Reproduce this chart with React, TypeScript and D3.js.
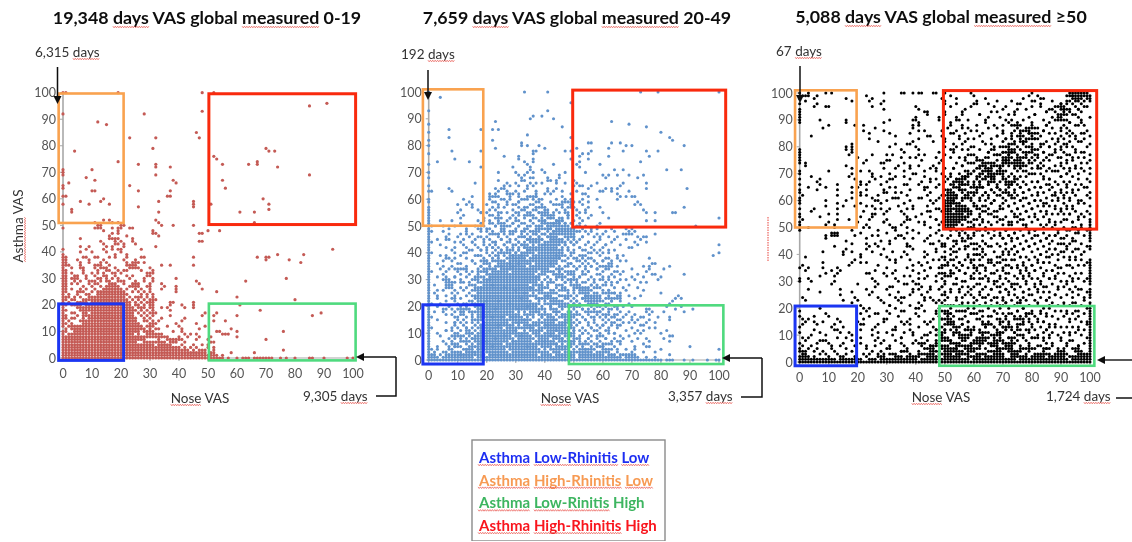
import React from "react";
import * as d3 from "d3";

// Each row is "asthmaVAS:noseVAS values" with a-b for a run of neighbouring dots.
const rowsA = [
"100:0 1 19 48 52","96:91","95:85","93:48","92:0 28","89:12","88:15","85:46","83:23 32 47","79:31 70","78:4 71 73","76:52","75:53","74:19 67",
"73:26 32 55 64 67","72:32 37 74","71:0 10","70:0","69:0 32 85","68:8","67:11 38 55","66:2 39","65:0 23","64:0 56","63:10 11 26 37","61:0 1 36 37",
"60:14 69","59:6 13 33 45","58:0 9 16 45 51 71","57:26 45","56:3 71","55:3 33 61 66","52:14 16 32","51:11 17 19 33 66","50:12 13 20 21 34 38 45",
"49:0 11-13 17 19 20 23 24","48:14 19 31 50 54","47:17 19 31 32 47 48","46:16 22 33","45:6 16-19 24","44:13 18 20 24 47 48","43:14 18 19 21 25",
"42:6 9 15 17 21 32","41:0 8 14 17 19 20 27 93","40:6 10 15 20","39:0 18 22 74 83","38:0 1 7 8 11 12 16 18 22 27 28 45 67 70 71","37:0 1 5 9 14 21 25 70 78",
"36:0 1 6 9 13 15 22 24-26 28 82","35:0 1 2 6 11-13 16 22-25 34 37 45","34:0 3 6 7 11 13-15 18 23-26 30","33:0 1 7 12 15 16 19 21 22 27 31",
"32:0 1 3 7 10 12 14 17 18 20 29-31","31:0 1 4 5 8 11 14 15 18 22 24 29 30","30:0 1 3-5 8 12 13 15 17 19 23 28 31 39 77","29:0 1 4 6 9-11 13 15 16 19-21 25 28 31 46 63",
"28:0 1 3 5 9 11 12 16-18 21 24-26 30 34 47","27:0 1 7 10 13 15-19 23-26 29 30 35 39","26:0 1 3 6 8 11 14-20 22 25 27 30 34 39 48","25:0 1 5-7 10 12-21 24 26 28 30 39 53",
"24:0 2 5 8 9 12-22 27 29 31","23:0-2 4 6 9-21 23 25-27 29 31 60","22:0 1 3 4 7-22 24 26 28 30-32 80","21:0 2 5-8 10-23 25 27 29-31 38 37 45",
"20:0 1 3-6 8-23 25 26 28 30 31 37 41 45 61","19:0 5-24 26-28 30 31 34 36 42 45","18:0 1 6-25 27 29 31 37 68","17:0 3-4 7-8 10-24 26 28 30-32 49 53 89","16:0 1 5 7-24 27 29 31 37 48 52 60 86",
"15:0 1 3 4 7 9-25 28 30 34 42","14:0 2 6-25 28 29 31 33 41 52 56","13:0 1 3 7-26 30-32 39 46","12:0 2-27 29-31 36 40 49","11:1 3-28 30 32 33 41 47 58","10:0-1 4-26 28-31 38 41 53 54 60 76",
"9:0 2-24 26 29-34 42 44 46 55-57","8:0-36 40 43 47 51 60","7:0-28 33 36-41 46 50 70","6:0-25 28-35 37-39 42 51 52","5:0-31 33-37 41 45 48 50","4:0-40 42 44 46 50 52","3:0-43 45 47-49 52 76",
"2:0-49 51 52 58 66","1:0-53 55","0:0-55 57 60 62-64 66-72 75 77 80 85 86 90 98 100",
];

const rowsB = [
"100:0 33 41 73 79 100","98:4","96:49","93:0 41","91:36 39","90:35 43","89:23 63","88:0 69","87:46 75","86:7 18 22 24","85:0 80","84:34","83:7 49 83","82:22 84 0",
"81:32 55 56 63 66","80:0 32 34 38 68 70 88","79:23 40 51 62","78:8 18 36 37 47 49 56 67 75 79","77:0 36 53 55","76:26 31 52 62 76","75:9 31 36 49 55","74:3 14 33 36 52 73","73:0 34 43 51 59",
"72:18 29 35 52","71:35 39 64 67 82 87","70:0 24 30 34 36 40 47 54","69:31 33 45 60 62 65 69 74","68:0 32 35 36 41 45 61 72","67:24 32 33 41 42 44 50","66:16 27 30 35 37 39 44 47 51 58 67 75",
"65:0 26 28 31 34 36 50 52 53 56 66","64:7 23 25 26 34 41 44 55 61 63 65 75 89","63:0 1 8 24 27 30 33 37 41 43 46 51 59 60 63 69","62:21 23 27-29 31 37 40 42 49 53 54 65",
"61:15 21-24 31 34-37 46 55 66 68 70 71","60:0 12 26 28 33 36 38 39 44 47 49 53 58 65","59:0 14 22 27 31 37 42 46-50 52 55 72","58:10 13 15 27 30 36 39 43-46 49 53 71 73",
"57:0 15 24 31 34 37-39 46 48 50 55 59 88","56:0 11 17 29 33 36 40 44 47 51 54 74","55:0 10 18 24 27 31 35 38-41 45 48 52 54 60 75 78 84 85","54:0 12 21 24 29 33-36 40-43 48 51 56",
"53:0 11 19 23 25 28 30 36 39 41-43 46 48 52 55 62 100","52:0 4 8 19 21 24 27 31 35 38-40 44-46 50 53 75 78","51:0 11 18 22 24-26 29 33 36 40-45 47 49 52 59",
"50:0 1 5 9 16 19 23 25 27 31 35 37-39 41-48 51 54 58 92","49:0 7 13 17 20 21 25 26 30 33 34 38 39 41 42 44-50 53 58 63 68 70","48:0 1 5 13 18 20 26 28 29 32 36-38 41 43-50 52 56 61 64 69 71",
"47:0 7 11 15 21-24 28 34 36 37 40 42 43 45-50 55 60 67-70 78","46:0 6 10 14 18 24 27 31-33 38 41-44 47-50 53 57 62 65 72 74 75","45:0 3 7 12 16 19 21 25 28 34-39 42-46 48 50 52 59 64 68 73",
"44:0 1 9 11 15 22 23 27 31 33 35-38 40-47 49 51 55 58 63 71 75","43:0 4 12 16 19 23 26 29 32-34 36 38-45 47 50 54 61 66 72 100","42:0 6 13 17 20 22 27 31 33-37 39-44 46 48 52 56 60 69 70",
"41:0 8 14 15 18 25 27-29 31 34-45 48 50 53 57 62 64","40:0 1 9 12 20 22 24-27 30 32-36 38-46 50 55 58 60 100","39:0 4 6 11 16-18 23 26 28-34 36-46 49 52 54 59 65 67 98",
"38:0 7 9 13 19 22 24 27-33 35-45 48 53 56 61 62 76","37:0 5 8 15 18 20 22-25 28-31 33-44 47 51 54 57 60 63 66 68","36:0 3 10 16 19-21 24-35 37-44 49 53 55 58 62 77 78",
"35:0 5 8 13 18 21 23-33 35-43 45 48 50 52 56 59-63 65 74 76 83","34:0 4 7 9-13 17 20-23 25-41 44-46 51 54 58 62 70 76 81","33:0 1 6 10 15 18-20 22-27 29-37 39-42 45 47 49 53 55 60 65 67 75",
"32:0 5 11 14 17 20-36 38-40 43-45 48-50 54 58 63 66 72 77 78 88","31:0 3 6 9 13 16-19 21-38 41 44-47 50 52 56 60 64 70 74 80","30:0 5-7 11 15-17 19-38 40 42 46 48-51 55 59 62 68 71 79",
"29:0 6-9 12 14 18-37 39 41 43 47 49 53 57 61 65 73 75","28:0 2 6-8 14 16 19-34 36-39 41 44-46 49-52 56 58 60 63 69","27:0 7 8 11 13 16-36 38-41 44 47 51-54 57 59 64 67 72","26:0 3 5 9 12 15-39 42 45-47 50 53-56 60 62 68 74",
"25:0 2 8 10 14 17-34 36 38-44 48 50 52-55 58 61-64 66 80","24:0 3 6 9 13 15-37 40-42 45-48 51 54-58 62 65 69 73 86","23:0 3 8 11 16-34 37-44 48 50 53-59 61-66 71 85 87","22:0 6 9 14 17-35 38 40 42-46 49 51 54-60 63 66 84",
"21:0 1 4 10 12 15-38 41-48 50 52 55-58 62 69 83","20:0 3 7 11 13 16-37 39 42 45-47 49-52 56 59 61 64 67 70 82 87","19:0 5 8 10-14 17-40 42-44 46 50 53 55 57 60 63 65 75 76 85 91","18:0 2 5 9 12 14 16-29 31 33 35-38 40 43-45 48 51 54 56-59 62 66 69 75 77 81 88",
"17:0 6 8 12 15 17-31 33-36 38-42 44 46-50 52 55 58 60-62 65 68 71 76","16:0 1 9 10 13 15 17-26 28-32 34 36 39 41-43 45-50 53 56 59 63 64 67 70 73 74 79 83","15:0 3 10 12 15-18 20-35 38 40-44 47-49 51 54 57 60 62 65 70 72 76 83",
"14:0 6 9 11 13 15 17 19-27 29-34 36-43 45-50 52 55 57 61 64 67 69 71 75 78","13:0 9 12 16 18-29 31 33-38 40-47 49 51 55 58 60 63 66 73 74","12:0 1 8 10 13 15 17-25 27-36 38-44 46-50 53 56 59 62 65 70 76 78",
"11:0 6 8 11 14 16 18-30 33 35-39 41-48 50 52 54 57 61 68 72 74 82","10:0 3 9 10 13-15 17-34 36-38 40-43 45-50 53 55 59 62 64 71 73 80","9:0 4 8-10 12 14 16-28 30-35 37-45 47-50 52 56 58 60 66 69 83 84",
"8:0 7 9 11 13 15-29 31-36 38-41 43-46 48 50-52 55 58 61 64 67 72 75 81","7:0 5 8 11-14 16-27 29-35 37-43 45-50 52 54 56 59 63 65 70 76 83","6:0 6 8 10 13 15 17-25 27-44 46 48-50 53-55 58 60-62 66 74",
"5:0 3 7 9-11 14-16 18-37 39-42 44-49 51 53 56 58-60 64 71 75 76 90","4:0 1 3 7 8 12-15 17-26 28-38 40 42-48 50 52-57 60-63 68 71 80 100","3:0 2 5 8-11 13-18 20-27 29-41 43-45 47-50 52-56 59-61 65 70 74 78",
"2:0-2 4 6-19 21-37 39-42 44-50 52-60 62-64 66-71 83","1:0-3 5-15 17-50 52-66 68-72 75 78","0:0-80 82-84 88 91 96 99 100",
];

// Second reading of panel B, by column: "noseVAS:asthmaVAS values"
const colsB = [
"6:3 11 19 27 38 45","9:5 6 14 23 31 42","11:2 9 17 18 29 36","13:4 11 12 21 33 40 47","15:3 8 10 18 22 28 37 44","17:4 5 19 25 29 33 39 46 52","18:6 7 13 27 35 41 49 55",
"19:9 12 16 21 34 37 44 53","20:7 22 33 37 41 46 55 58","21:11 18 30 39 43 51 56 60","22:5 16 28 42 48 54 57","23:8 19 41 44 50 56 59","24:13 22 39 42 47 53 58","25:16 35 41 45 48 55 60",
"26:9 27 37 43 47 50 57","28:21 34 36 40 44 50 53 61","29:7 16 35 39 42 47 51 58","30:11 26 40 43 45 48 52 55","31:14 19 36 41 44 50 54 59","32:9 23 37 39 43 47 51 56 60","33:15 25 42 46 48 53 57",
"34:5 20 41 45 50 55 60","35:12 27 46 48 52 58","37:18 31 47 49 53 56 61","38:11 23 42 46 50 55 59","39:16 28 45 47 51 54","40:7 21 43 47 49 52 57","41:13 24 31 46 50 56","42:9 20 29 36 47 49 53","43:15 26 33 48 51 55","44:6 11 18 30 39 47 52",
"45:12 24 33 38 51 53","46:8 17 27 32 37 41 52","47:14 23 29 35 39 43 51 55","48:5 10 20 26 33 36 41 54","49:13 18 24 30 36 40 44 57","50:7 11 21 27 33 38 43 46","51:3 17 22 29 34 38 44 48","52:6 14 26 31 37 42 50","53:10 19 23 32 39 46","54:4 15 24 29 35 41 48","55:8 18 27 33 38 44",
"56:12 21 28 35 40 49","57:6 16 25 30 37 43","58:3 11 20 27 34 47","59:9 18 24 32 41 46","60:5 13 25 30 37","61:8 16 21 28 34 43","62:3 11 19 26 31 40","63:6 14 22 29 36","64:10 17 25 33","65:4 13 20 29 38","66:7 15 24 30",
];

const rowsC = [
"100:0 3 9 11 29 35 36 39 41 42 46 47 50 59 80 93-99","99:1-3 6 23 52 60 79 82 92-100","98:0 5 16 25 49 54 64 77 83 94-97 99 100","97:2 18 24 29 50 68 73 81 93 95 96 98 100",
"96:0 6 28 50 60 61 75 83 90 92 94 97","95:5 9 10 25 40 52 67 80 89-91 95 98","94:0 29 41 57 70 75 87 90-93 96","93:0 43 44 50 66 74 85 88 91 93 97","92:0 44 56 62 72 81 89-92 94",
"91:0 40 48 54 65 79 87 90 96 100","90:0 7 16 31 39 40 55 71 73 84 88-92","89:0 16 29 41 52 64 75 80 86 93 97","88:10 19 22 39 41 56 70 73-76 85 91 95","87:8 26 39 51 58 68 78-81 87 90",
"86:22 29 41 43 54 61 74 76-79 84 93","85:24 31 38 52 57 70 73 79-82 86 92 98","84:4 33 44 49 62 68 75-77 80 83 90 100","83:24 41 55 58 71 73 76 79-82 89 95","82:39 46 50 63 70 76-78 85 93 97",
"81:18 33 38 53 56 66 73 74 77 80 84 88 91 100","80:16 18 31 40 50 60 67 70-72 78-80 83 86 92","79:0 16 18 35 41 52 58 66 72-74 76 80-82 90 95","78:0 18 36 48 53 65 70-74 77-80 84 88 98",
"77:0 17 30 32 41 50 59 67-69 72 75 78 81 86 92 100","76:0 20 38 40 47 57 61 65 70-73 75-78 82 90 94","75:0 23 30 31 42 49 62 63 68 70-72 74-76 79 84 100","74:0 2 22 28 36 48 58 60 64-66 70-75 77 80 92 97",
"73:2 16 34 38 46 56 62-64 67-70 72 75-77 82 90","72:18 29 38 45 50 53 61 64-66 69 74 76 83 86 95 100","71:0 10 24 36 43 47 57 60 63-66 68-71 78 88 93","70:0 18 25 31 40 49 58 59 62 65-67 69 70 73 80 92 100",
"69:4 17 28 33 36 43 52 56-58 62 64-67 70 74 84 90","68:0 7 19 26 32 38 47 51 54-57 61 63 66 71 75 86 96","67:6 21 24 30 42 45 50 53-56 60 62 65-67 72-74 82 100","66:0 7 13 21 28 36 41 52 55-58 62 65 68 71-73 86 92",
"65:3 9 18 20 31 33 44 47 53-55 60-63 68 72 76 83 99","64:0 6 13 23 29 38 43 50 51 55-57 61 66 69 74 79 90 94","63:0 18 21 30 33 45 51-53 56 59 60 64 70-72 77 88 92 100","62:1 13 23 27 37 44 50-54 58 60 63 69 73 82 87 91",
"61:0 18 25 32 34 42 48 51-54 57-59 65 74 77 89 100","60:0 9 16 26 30 38 45 50-53 56 62 67 76 81 93 96","59:0 13 21 28 36 46 50-55 60 66 70 79 85 91","58:9 15 19 25 34 39 44 50-52 54-57 61 64 72 84 88 94 100",
"57:0 5 13 26 28 37 47 50-58 62 69 75 80 92","56:4 22 30 35 44 49 50-52 54-59 63 67 78 90","55:0 10 13 26 29 36 42 50-56 58 59 65 74 85 93 100","54:0 7 21 25 37 40 45 50-58 62 68 75 81 96","53:1 13 17 24 30 38 47 50-57 61 70 76 91 100",
"52:0 10 20 29 36 41 49-55 59 63 73 86 94 100","51:0 9 12 23 31 35 43 48 50-54 60 72 77 88 97 100","50:0 3 12 22 24 32 37 45 50-53 58-60 64 78 84 94 100",
"49:0 18 27 33 39 48 52 56 62 71 81 92 96 100","48:11-13 21 30 37 47 55 60 69 74 79 89 95 100","47:9 11-13 19 25 34 45 49 58 67 72 81 88 100","46:9 23 33 36 44 51 56 59 70 75 85 91 100",
"45:16 28 31 43 54 57 63 73 78 83 94 100","44:18 26 37 46 49 60 64 71 81 86 90","43:12 24 27 38 50 53 58 66 74 79 92 100","42:16 23 29 39 47 57 61 71 77 88 95 100",
"41:8 15 18 32 36 50 54 63 70 75 85 91","40:15 21 28 37 44 52 60-62 72 74 83 89 97","39:2 21 30 35 43 49 58 63 69 76 86 93","38:19 31 38 46 50 53 60 65 70 73 82 95 100",
"37:8 18 23 33 44 51 55 59 66 68 77 84 100","36:1 17 27 39 42 49-51 56 62 71 75 80 93 100","35:0 3 8 13 30 37 45 48 54 60 64 73 78 89 100","34:2 11 14 26 33 43 52 55 61 70 76 81 87 100",
"33:9 13 24 32 41 48-50 53 57 67 72 79 84 100","32:7 12 30 36 38 44 50-52 59 64 69 77 88 100","31:0 3 25 33 41 49 54 60 62 71 75 86 94 100","30:0 4 12 26 34 39 47 50 57 65 68 78 83 100",
"29:11 20 27 36 40 50 54 62 67 74 81 92 100","28:26 32 42 45 49 56 60 69 73 84 89","27:3 14 23 30 39 41 48 52 63 66 71 82 96 100","26:7 18 25 34 44 50 55 58 69 72 77 94 100",
"25:14 24 31 38 42 49 59 62 74 79 88 100","24:1 19 27 33 36 45 51 56 64 68 77 86 100","23:2 15 20 28 34 43 46 50 54 66 70 76 85 98","22:18 29 35 41 47 49 56 60 71 75 82 94 100",
"21:21 31 38 42 50-52 55 62 70 79 91 100","20:7 22 24 33 40 48 52 58 65 69 77 86 100","19:0 23 30 36 43 49-51 55-57 62 67 75 83 95 100","18:9 21 26 31 40 47 50-52 59-61 68 72 78-80 92 100",
"17:0 5 10 24 34 41 48 51 53 57 63 66 71 74 78 85 96 100","16:1 3 13 22 30 38 46 49-52 56 62 69 75-77 82 93 100","15:2 5 8 14 20 29 35 43 51-53 58 65 70 72 79 84 99 100","14:1 6 12 22 27 36 38 44 50-52 56 63-65 69 75-77 88 100",
"13:0 11 15 26 33 41 46 49 53-55 58 64 67 70-73 80 86 100","12:5 12 13 21 32 38 47 50 54 57-60 68 71 75 79 85 96 100","11:0 7 14 17 27 30 36 45 48-50 53-55 62-64 68-70 74 84 93 100","10:4 9 18 25 32 39 44 47-49 53 56-59 63 66-69 75-77 86 100",
"9:1 3 13 16 27 35 42 49-51 55-58 62-65 69 72-74 80-82 90 100","8:2 7-9 18 26 33 40 44 47-52 56 60-63 67-70 73 78 84 93 100","7:0 6 10 15 21 28 35 41-43 47 48 52-55 59-63 65-68 71-74 79 85 92 100","6:1 4 11 14 19 26 31 36 42 45-51 54-59 62 66-68 71-73 76 82 87 96 100",
"5:0 3 6 11 16 23 30 37 43-46 49-54 57-61 64 68-73 77-80 84-86 91 94-96 100","4:0-2 5 8 12 18 25 28 35-37 41 45-48 50-55 58-60 65-69 72-76 79 84 89-91 95-97 100","3:1 2 7 9 13 16 22 24 29 31-33 38 42-46 48-52 54-58 61-64 67-70 73-75 78 81-86 88-92 96-100",
"2:0-3 5 10 14 15 19 23 27-29 33-35 37-41 44-48 50-55 58-62 64-70 73-78 80-84 86-91 93-100","1:0-12 14-21 24-26 28-40 42-58 60-74 76-92 94-100","0:0-100",
];

// Second reading of panel C, by column: "noseVAS:asthmaVAS values"
const colsC = [
"21:9 14 37 62 71","23:6 33 44 58 66","25:12 41 55 69 77","27:3 18 47 60 82","29:8 16 33 52 63 74","31:5 21 28 44 57 68","33:12 38 50 61 72","35:4 9 19 24 47 63 76","37:15 29 43 53 66 81","39:7 11 26 34 46 57 70",
"41:3 20 29 37 48 61 73","43:10 24 31 41 52 65 77","45:6 15 27 35 44 56 68 84","47:12 19 32 41 53 60 72","48:4 23 38 45 57 66 90","49:9 16 28 35 43 62 75 86","50:12 25 39 44 58 69 83 92",
"52:8 12 18 26 33 38 42 47 59 64 70 76 88","53:14 21 29 36 41 45 60 66 72 79 85","54:5 19 24 31 39 44 49 62 68 74 80 90 96","55:10 16 27 34 37 42 47 64 70 76 84","56:4 14 21 30 36 45 51 61 66 73 79 87 93",
"57:8 12 19 25 33 38 43 48 62 69 75 82","58:15 22 28 35 40 46 52 63 67 71 77 90","59:6 11 18 27 31 38 44 50 60 65 74 80 86 95","60:13 20 24 33 36 42 47 53 58 66 71 77 83","61:9 16 23 29 35 40 44 49 57 63 69 75 88 97",
"62:5 12 21 26 33 38 43 51 55 61 67 72 79 92","63:15 19 24 31 36 42 47 53 58 65 70 74 85","64:8 13 22 28 34 40 44 49 56 60 63 68 76 81 90","65:11 17 25 31 37 43 48 52 57 62 66 71 78 87 96","66:6 14 21 27 33 38 46 51 55 59 64 69 73 83",
"67:9 13 19 24 30 36 41 49 54 60 63 68 74 79 88","68:5 16 22 28 34 39 44 52 56 62 65 70 77 84 93","69:11 15 21 26 31 37 43 47 53 58 64 67 72 80 91","70:7 13 18 24 29 35 40 46 51 57 61 68 74 78 86","71:12 16 22 27 33 38 44 49 54 60 64 67 75 83 95",
"72:9 14 20 25 30 36 41 47 52 58 62 69 77 81 89","73:5 12 18 23 29 35 42 46 51 56 61 66 78 84","74:11 16 21 27 32 38 43 48 54 59 63 68 73 82 92","75:8 13 19 24 29 35 41 46 52 57 62 66 71 80 87","76:5 12 17 22 28 33 39 44 49 55 60 65 69 74 85 96",
"77:9 15 20 26 31 36 42 47 53 58 63 67 71 82 90","78:12 18 23 29 34 39 45 51 56 61 66 69 73 83 94","79:6 11 16 21 27 32 38 43 49 54 59 64 70 74 85","80:9 14 19 25 31 36 41 46 52 57 62 67 72 76 88 97","81:5 12 17 23 28 34 39 44 49 55 60 65 70 75 83 92",
"82:10 15 21 26 31 37 42 47 53 58 63 67 72 77 87","83:6 13 18 24 29 35 40 45 51 56 60 65 70 74 81 95","84:9 15 20 26 32 37 43 48 54 59 63 68 73 78 86 98","85:5 12 18 23 28 34 39 46 51 56 61 66 71 76 88 93","86:9 14 21 26 31 37 42 47 53 58 64 68 75 80 94",
"87:7 11 17 22 29 34 40 45 50 55 60 65 71 77 83 97","88:13 19 25 31 36 42 47 52 57 62 67 73 79 85 95","89:5 10 16 21 27 33 38 44 49 55 60 66 71 76 82 91","90:8 13 19 24 30 35 41 46 52 57 63 69 74 80 86 96","91:11 17 22 28 33 39 44 50 55 61 67 72 78 83 94",
"92:6 13 19 25 30 36 42 47 53 58 65 70 75 81 87 97","93:10 15 21 27 32 38 44 49 55 61 67 72 77 84 89","94:8 13 18 24 30 35 41 46 52 57 63 69 75 80 85 99","95:11 16 22 28 33 39 45 50 56 62 66 73 78 84 92","96:6 13 19 25 31 36 42 48 53 59 64 70 76 82 88 94",
"97:10 15 21 27 33 38 44 50 55 60 66 72 78 85 90","98:7 12 18 24 30 36 41 47 54 59 65 71 76 83 88","99:9 14 20 26 31 37 43 49 56 62 68 74 80 86 95",
];

const titles = ["19,348 days VAS global measured 0-19", "7,659 days VAS global measured 20-49", "5,088 days VAS global measured ≥50"];
const topCalls = ["6,315 days", "192 days", "67 days"];
const rightCalls = ["9,305 days", "3,357 days", "1,724 days"];
const vasTicks = [0, 10, 20, 30, 40, 50, 60, 70, 80, 90, 100];
const legendLines = ["Asthma Low-Rhinitis Low", "Asthma High-Rhinitis Low", "Asthma Low-Rinitis High", "Asthma High-Rhinitis High"];
const legendColors = ["#1f2ff2", "#f79a52", "#3db560", "#f9141e"];
const squiggled = new Set(["days", "measured", "Nose", "Asthma", "Low-Rhinitis", "High-Rhinitis", "Low-Rinitis", "Low"]);

const boxColors = { orange: "#f9a24f", blue: "#1b36f2", red: "#f92a10", green: "#4fda7e" };
// [nose from, nose to, asthma from, asthma to] in VAS units, as drawn in each panel
const boxesA = [["orange", -1.5, 20.9, 50.9, 99.7], ["blue", -1.5, 20.9, -0.9, 20.4], ["red", 50.3, 100.9, 50.3, 99.6], ["green", 50.3, 100.9, -0.9, 20.5]] as const;
const boxesB = [["orange", -2, 18.8, 50.1, 101], ["blue", -2, 18.8, -1.5, 20.6], ["red", 49.6, 102.3, 49.6, 100.7], ["green", 48.3, 101.5, -1.5, 20.4]] as const;
const boxesC = [["orange", -1.6, 19.6, 50, 101], ["blue", -1.6, 19.6, -1.4, 20.8], ["red", 49.5, 102.3, 49.4, 100.9], ["green", 48.1, 101.5, -1.4, 20.8]] as const;

const expand = (rows: string[]) =>
  rows.flatMap((r) => {
    const [y, runs] = r.split(":");
    return runs.trim().split(" ").flatMap((tok) => {
      const [a, b] = tok.split("-").map(Number);
      return d3.range(a, (b ?? a) + 1).map((x) => ({ x, y: +y }));
    });
  });
const expandCols = (cols: string[]) => expand(cols).map((d) => ({ x: d.y, y: d.x }));

const panels = [
  { pts: expand(rowsA), boxes: boxesA, color: "#c45a54", r: 1.6, x: [63, 353], y: [358, 92.7], titleX: 207, titleY: 24,
    top: [35, 57], topArrow: [57.5, 67, 104], noseX: 200, noseY: 403, right: [303, 401], yLabelled: true,
    arrowPath: "M396,357 V396 H376", arrowFrom: [396, 357], arrowTo: 356 },
  { pts: [...expand(rowsB), ...expandCols(colsB)], boxes: boxesB, color: "#6192cb", r: 1.55, x: [428.7, 719], y: [360, 92], titleX: 577, titleY: 24,
    top: [401, 59], topArrow: [428, 70, 100], noseX: 570, noseY: 403, right: [668, 401], yLabelled: false,
    arrowPath: "M741,397 H762 V358", arrowFrom: [762, 358], arrowTo: 722 },
  { pts: [...expand(rowsC), ...expandCols(colsC)], boxes: boxesC, color: "#000000", r: 1.5, x: [799.7, 1090], y: [362, 93], titleX: 941, titleY: 23,
    top: [776, 56], topArrow: [800, 66, 103], noseX: 941, noseY: 402, right: [1046, 401], yLabelled: false,
    arrowPath: "M1116,398 H1132", arrowFrom: [1132, 360], arrowTo: 1097 },
];

const FONT = "Lato, 'Open Sans', sans-serif";

function Words({ text }: { text: string }) {
  const words = text.split(" ");
  return (
    <>
      {words.map((w, i) => (
        <React.Fragment key={i}>
          {squiggled.has(w) ? <tspan data-sq="1">{w}</tspan> : <tspan>{w}</tspan>}
          {i < words.length - 1 ? " " : ""}
        </React.Fragment>
      ))}
    </>
  );
}

function Panel({ p, i }: { p: (typeof panels)[number]; i: number }) {
  const sx = d3.scaleLinear().domain([0, 100]).range(p.x);
  const sy = d3.scaleLinear().domain([0, 100]).range(p.y);
  const [ax, ay0, ay1] = p.topArrow;
  return (
    <g>
      <text x={p.titleX} y={p.titleY} textAnchor="middle" fontWeight={700} fontSize={17.8} fill="#111"><Words text={titles[i]} /></text>
      <text x={p.top[0]} y={p.top[1]} fontSize={13.5} fill="#333"><Words text={topCalls[i]} /></text>
      <line x1={sx(0)} x2={sx(0)} y1={sy(0)} y2={sy(100)} stroke="#a8a8a8" strokeWidth={1.6} />
      <line x1={sx(0)} x2={sx(100)} y1={sy(0)} y2={sy(0)} stroke="#a8a8a8" strokeWidth={1.2} />
      {vasTicks.map((t) => (
        <g key={t}>
          <line x1={sx(t)} x2={sx(t)} y1={sy(0)} y2={sy(0) + 3} stroke="#a8a8a8" />
          <line x1={sx(0) - 3} x2={sx(0)} y1={sy(t)} y2={sy(t)} stroke="#a8a8a8" />
          <text x={sx(t)} y={sy(0) + 20} textAnchor="middle" fontSize={12.5} fill="#555">{t}</text>
          <text x={sx(0) - 7} y={sy(t) + 4.5} textAnchor="end" fontSize={12.5} fill="#555">{t}</text>
        </g>
      ))}
      {p.pts.map((d, k) => <circle key={k} cx={sx(d.x)} cy={sy(d.y)} r={p.r} fill={p.color} />)}
      {p.boxes.map(([c, x0, x1, y0, y1]) => (
        <rect key={c} x={sx(x0)} y={sy(y1)} width={sx(x1) - sx(x0)} height={sy(y0) - sy(y1)} fill="none"
          stroke={boxColors[c]} strokeWidth={c === "red" || c === "blue" ? 3 : 2.6} />
      ))}
      <text x={p.noseX} y={p.noseY} textAnchor="middle" fontSize={13.5} fill="#333"><Words text="Nose VAS" /></text>
      <text x={p.right[0]} y={p.right[1]} fontSize={13.5} fill="#333"><Words text={rightCalls[i]} /></text>
      {p.yLabelled && (
        <text transform="translate(23,226) rotate(-90)" textAnchor="middle" fontSize={13.5} fill="#333"><Words text="Asthma VAS" /></text>
      )}
      <line x1={ax} x2={ax} y1={ay0} y2={ay1 - 4} stroke="#111" strokeWidth={1.5} />
      <path d={`M${ax - 4},${ay1 - 8} L${ax},${ay1} L${ax + 4},${ay1 - 8} Z`} fill="#111" />
      <path d={p.arrowPath} fill="none" stroke="#111" strokeWidth={1.5} />
      <line x1={p.arrowFrom[0]} x2={p.arrowTo + 4} y1={p.arrowFrom[1]} y2={p.arrowFrom[1]} stroke="#111" strokeWidth={1.4} />
      <path d={`M${p.arrowTo + 8},${p.arrowFrom[1] - 4} L${p.arrowTo},${p.arrowFrom[1]} L${p.arrowTo + 8},${p.arrowFrom[1] + 4} Z`} fill="#111" />
    </g>
  );
}

export default function App() {
  const ref = React.useRef<SVGSVGElement>(null);
  React.useEffect(() => {
    // spell-check squiggles under the flagged words, measured from the laid-out text
    const svg = ref.current!;
    const layer = d3.select(svg).select("g.squiggles");
    layer.selectAll("*").remove();
    const origin = svg.getBoundingClientRect();
    svg.querySelectorAll("tspan[data-sq]").forEach((el) => {
      const b = el.getBoundingClientRect();
      const x0 = b.left - origin.left, y0 = b.top - origin.top;
      const vertical = b.height > b.width;
      const len = vertical ? b.height : b.width;
      const pts: string[] = [];
      for (let s = 0, k = 0; s <= len; s += 1.2, k++) {
        const off = k % 2 ? 0.8 : -0.8;
        pts.push(vertical ? `${x0 + b.width + off - 1},${y0 + s}` : `${x0 + s},${y0 + b.height - 1 + off}`);
      }
      layer.append("polyline").attr("points", pts.join(" ")).attr("fill", "none").attr("stroke", "#e8524a").attr("stroke-width", 0.7);
    });
  }, []);
  return (
    <svg ref={ref} width={1132} height={542} viewBox="0 0 1132 542" fontFamily={FONT}
      style={{ position: "absolute", left: 0, top: 0, background: "#fff" }}>
      <defs>
        <filter id="soft" x="0" y="0" width="100%" height="100%"><feGaussianBlur stdDeviation="0.45" /></filter>
      </defs>
      <g filter="url(#soft)">
        {panels.map((p, i) => <Panel key={i} p={p} i={i} />)}
        <line x1={768} x2={768} y1={217} y2={262} stroke="#e8413a" strokeWidth={1} strokeDasharray="1.5 1" />
        <rect x={472} y={440} width={193} height={101} fill="#fff" stroke="#8a8a8a" strokeWidth={1.4} />
        {legendLines.map((t, i) => (
          <text key={t} x={479} y={463 + i * 22.7} fontWeight={700} fontSize={15} fill={legendColors[i]}><Words text={t} /></text>
        ))}
        <g className="squiggles" />
      </g>
    </svg>
  );
}
